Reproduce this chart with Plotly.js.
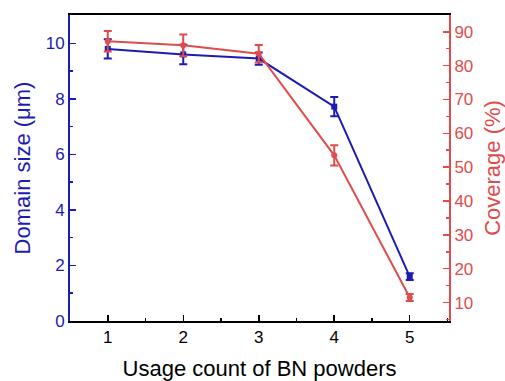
<!DOCTYPE html>
<html>
<head>
<meta charset="utf-8">
<script src="https://cdn.plot.ly/plotly-3.0.1.min.js"></script>
<style>html,body{margin:0;padding:0;background:#fff;}#chart{width:505px;height:381px;}</style>
</head>
<body>
<div id="chart"></div>
<script>
var usageCount = [1, 2, 3, 4, 5];
var domainSize = [9.8, 9.6, 9.45, 7.72, 1.6];
var domainErr = [0.35, 0.35, 0.22, 0.35, 0.12];
var coverage = [87.2, 86.0, 83.5, 53.5, 11.5];
var coverageErr = [3.0, 3.2, 2.6, 3.0, 1.0];

var BLUE = '#1c1cb2';
var RED = '#e04c4c';
var FONT = 'Liberation Sans, Arial, sans-serif';

var traces = [
  {
    x: usageCount, y: domainSize, type: 'scatter', mode: 'lines+markers',
    line: {color: BLUE, width: 2},
    marker: {symbol: 'square', size: 6, color: BLUE},
    error_y: {type: 'data', array: domainErr, visible: true, color: BLUE, thickness: 2, width: 4},
    yaxis: 'y', showlegend: false, hoverinfo: 'x+y'
  },
  {
    x: usageCount, y: coverage, type: 'scatter', mode: 'lines+markers',
    line: {color: RED, width: 2},
    marker: {symbol: 'circle', size: 6, color: RED},
    error_y: {type: 'data', array: coverageErr, visible: true, color: RED, thickness: 2, width: 4},
    yaxis: 'y2', showlegend: false, hoverinfo: 'x+y'
  }
];

var layout = {
  width: 505, height: 381,
  margin: {l: 70, r: 56, t: 15, b: 60, pad: 0},
  paper_bgcolor: '#fff', plot_bgcolor: '#fff',
  font: {family: FONT, size: 17, color: '#000'},
  xaxis: {
    range: [0.5, 5.52], tickvals: usageCount, ticktext: usageCount.map(String),
    showgrid: false, zeroline: false,
    showline: true, linecolor: '#000', linewidth: 2, mirror: true,
    ticks: 'inside', ticklen: 6, tickwidth: 1.5, tickcolor: '#000',
    minor: {dtick: 0.5, tick0: 0.5, ticks: 'inside', ticklen: 3, tickwidth: 1.5, tickcolor: '#000'},
    tickfont: {family: FONT, size: 17, color: '#000'},
    title: {text: 'Usage count of BN powders', font: {family: FONT, size: 22, color: '#000'}, standoff: 14},
    automargin: false
  },
  yaxis: {
    range: [0, 11.02], tickvals: [0, 2, 4, 6, 8, 10],
    showgrid: false, zeroline: false,
    showline: true, linecolor: BLUE, linewidth: 2,
    ticks: 'inside', ticklen: 6, tickwidth: 1.5, tickcolor: BLUE,
    minor: {tickvals: [1, 3, 5, 7, 9, 11], ticks: 'inside', ticklen: 3, tickwidth: 1.5, tickcolor: BLUE},
    tickfont: {family: FONT, size: 17, color: BLUE},
    title: {text: 'Domain size (μm)', font: {family: FONT, size: 22, color: BLUE}, standoff: 9},
    automargin: false
  },
  yaxis2: {
    overlaying: 'y', side: 'right', anchor: 'x',
    range: [4.56, 94.95], tickvals: [10, 20, 30, 40, 50, 60, 70, 80, 90],
    showgrid: false, zeroline: false,
    showline: true, linecolor: RED, linewidth: 2,
    ticks: 'inside', ticklen: 6, tickwidth: 1.5, tickcolor: RED,
    minor: {tickvals: [5, 15, 25, 35, 45, 55, 65, 75, 85, 95], ticks: 'inside', ticklen: 3, tickwidth: 1.5, tickcolor: RED},
    tickfont: {family: FONT, size: 17, color: RED},
    title: {text: 'Coverage (%)', font: {family: FONT, size: 22, color: RED}, standoff: 12},
    automargin: false
  }
};

Plotly.newPlot('chart', traces, layout, {displayModeBar: false, staticPlot: true});
</script>
</body>
</html>
